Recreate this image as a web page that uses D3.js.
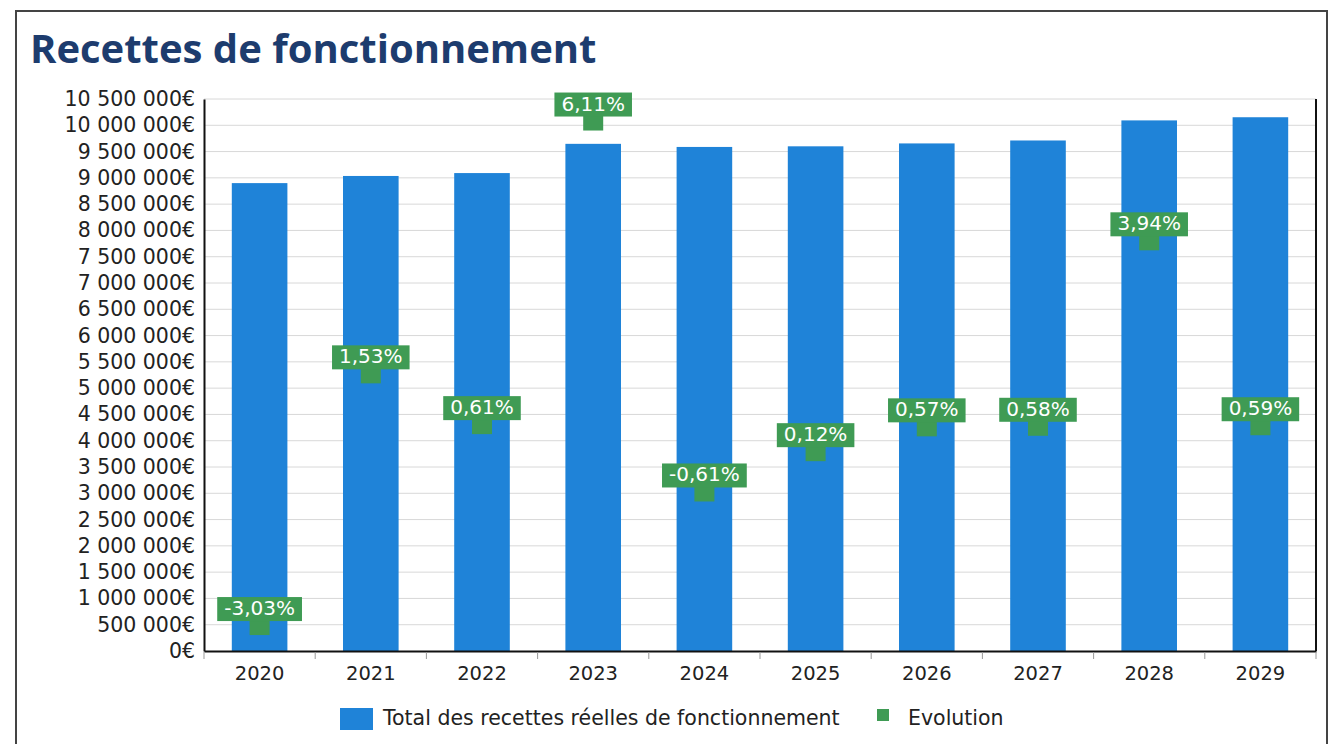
<!DOCTYPE html>
<html>
<head>
<meta charset="utf-8">
<script src="https://cdn.jsdelivr.net/npm/d3@7"></script>
<style>
  body { margin: 0; background: #fff; }
  svg { display: block; }
</style>
</head>
<body>
<svg></svg>
<script>
(function (d3) {
  'use strict';

  // data
  const years = ['2020', '2021', '2022', '2023', '2024', '2025', '2026', '2027', '2028', '2029'];
  const recettes = [8900000, 9036000, 9091000, 9647000, 9588000, 9600000, 9655000, 9711000, 10093000, 10153000];
  const evolution = [-3.03, 1.53, 0.61, 6.11, -0.61, 0.12, 0.57, 0.58, 3.94, 0.59];
  const legendLabels = ['Total des recettes réelles de fonctionnement', 'Evolution'];

  const width = 1331;
  const height = 744;
  const blue = '#1f83d8';
  const green = '#3f9b54';
  const font = 'DejaVu Sans';

  const svg = d3.select('svg')
      .attr('width', width)
      .attr('height', height);

  // frame
  svg.append('rect')
      .attr('x', 16).attr('y', 11)
      .attr('width', 1311).attr('height', 800)
      .attr('fill', 'none')
      .attr('stroke', '#444')
      .attr('stroke-width', 2);

  svg.append('text')
      .attr('x', 30).attr('y', 63)
      .attr('font-family', 'Open Sans')
      .attr('font-weight', 700)
      .attr('font-size', 40)
      .attr('fill', '#1d3c6e')
      .text('Recettes de fonctionnement');

  const plot = { left: 204, right: 1316, top: 99, bottom: 651 };

  const x = d3.scaleBand()
      .domain(years)
      .range([plot.left, plot.right])
      .paddingInner(0.5)
      .paddingOuter(0.25);

  const y = d3.scaleLinear()
      .domain([0, 10500000])
      .range([plot.bottom, plot.top]);

  const y2 = d3.scaleLinear()
      .domain([-3.5, 6.5])
      .range([plot.bottom, plot.top]);

  const fr = d3.formatLocale({ decimal: ',', thousands: ' ', grouping: [3], currency: ['', '€'], minus: '-' });
  const fmtEuro = fr.format('$,.0f');
  const fmtPct = d => fr.format('.2f')(d) + '%';

  const yTicks = d3.range(0, 10500001, 500000);

  // gridlines
  svg.append('g')
    .selectAll('line').data(yTicks.slice(1))
    .enter().append('line')
      .attr('x1', plot.left).attr('x2', plot.right)
      .attr('y1', d => y(d)).attr('y2', d => y(d))
      .attr('stroke', '#d8d8d8')
      .attr('stroke-width', 1);

  // y axis, left
  const yAxis = svg.append('g')
      .attr('transform', `translate(${plot.left},0)`)
      .call(d3.axisLeft(y).tickValues(yTicks).tickFormat(fmtEuro).tickSize(0).tickPadding(9));
  yAxis.select('.domain').attr('stroke', '#111').attr('stroke-width', 2);
  yAxis.selectAll('text')
      .attr('font-family', font)
      .attr('font-size', 20.5)
      .attr('fill', '#222');

  // secondary axis, right, no labels
  svg.append('line')
      .attr('x1', plot.right).attr('x2', plot.right)
      .attr('y1', plot.top).attr('y2', plot.bottom)
      .attr('stroke', '#111')
      .attr('stroke-width', 2);

  // bars
  svg.append('g')
    .selectAll('rect').data(years)
    .enter().append('rect')
      .attr('x', d => x(d))
      .attr('y', (d, i) => y(recettes[i]))
      .attr('width', x.bandwidth())
      .attr('height', (d, i) => y(0) - y(recettes[i]))
      .attr('fill', blue);

  // x axis
  const xAxis = svg.append('g')
      .attr('transform', `translate(0,${plot.bottom})`)
      .call(d3.axisBottom(x).tickSize(0).tickPadding(15));
  xAxis.select('.domain').attr('stroke', '#111').attr('stroke-width', 2);
  xAxis.selectAll('text')
      .attr('font-family', font)
      .attr('font-size', 19.5)
      .attr('fill', '#222');

  const step = x.step();
  svg.append('g')
    .selectAll('line').data(d3.range(years.length + 1))
    .enter().append('line')
      .attr('x1', i => plot.left + i * step)
      .attr('x2', i => plot.left + i * step)
      .attr('y1', plot.bottom + 1)
      .attr('y2', plot.bottom + 8)
      .attr('stroke', '#999')
      .attr('stroke-width', 1);

  // evolution markers and labels
  const pts = svg.append('g')
    .selectAll('g').data(evolution)
    .enter().append('g')
      .attr('transform', (d, i) => `translate(${x(years[i]) + x.bandwidth() / 2},${y2(d)})`);

  pts.append('rect')
      .attr('x', -10).attr('y', -10)
      .attr('width', 20).attr('height', 20)
      .attr('fill', green);

  pts.append('rect').attr('class', 'box')
      .attr('fill', green);

  pts.append('text')
      .attr('text-anchor', 'middle')
      .attr('y', -10)
      .attr('font-family', font)
      .attr('font-size', 20)
      .attr('fill', '#fff')
      .text(d => fmtPct(d));

  pts.each(function () {
    const g = d3.select(this);
    const w = g.select('text').node().getComputedTextLength() + 14;
    g.select('.box')
        .attr('x', -w / 2).attr('y', -28)
        .attr('width', w).attr('height', 24);
  });

  // legend
  const legend = svg.append('g');
  legend.append('rect')
      .attr('x', 340).attr('y', 708)
      .attr('width', 33).attr('height', 22)
      .attr('fill', blue);
  legend.append('text')
      .attr('x', 383).attr('y', 725)
      .attr('font-family', font)
      .attr('font-size', 20.5)
      .attr('fill', '#222')
      .text(legendLabels[0]);
  legend.append('rect')
      .attr('x', 877).attr('y', 709)
      .attr('width', 12).attr('height', 12)
      .attr('fill', green);
  legend.append('text')
      .attr('x', 908).attr('y', 725)
      .attr('font-family', font)
      .attr('font-size', 20.5)
      .attr('fill', '#222')
      .text(legendLabels[1]);

}(d3));
</script>
</body>
</html>
